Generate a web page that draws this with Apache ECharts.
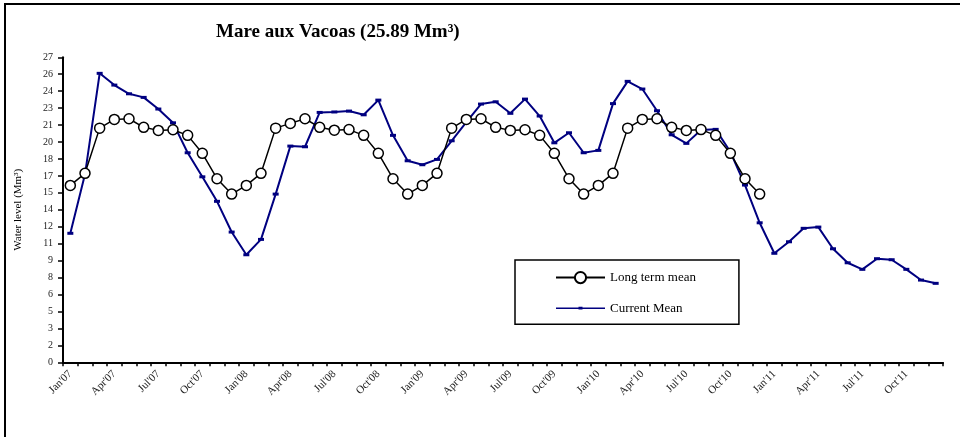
<!DOCTYPE html>
<html>
<head>
<meta charset="utf-8">
<script src="https://cdn.jsdelivr.net/npm/echarts@6/dist/echarts.min.js"></script>
<style>html,body{margin:0;padding:0;background:#fff}#c{width:960px;height:437px}</style>
</head>
<body>
<div id="c"></div>
<script>
const months = ["Jan","Feb","Mar","Apr","May","Jun","Jul","Aug","Sep","Oct","Nov","Dec"];
const years = ["07","08","09","10","11"];
const categories = [];
years.forEach(y => months.forEach(m => categories.push(m + "'" + y)));

const longTermMean = [
  15.66,16.73,20.73,21.50,21.56,20.80,20.53,20.59,20.09,18.50,16.25,14.89,
  15.66,16.73,20.73,21.15,21.56,20.80,20.55,20.60,20.09,18.50,16.25,14.89,
  15.66,16.73,20.73,21.50,21.56,20.80,20.53,20.59,20.09,18.50,16.25,14.89,
  15.66,16.73,20.73,21.50,21.56,20.80,20.53,20.60,20.09,18.50,16.25,14.89
];
const currentMean = [
  11.42,16.64,25.58,24.54,23.77,23.45,22.42,21.20,18.55,16.42,14.25,11.53,
  9.52,10.88,14.89,19.14,19.08,22.12,22.16,22.24,21.91,23.21,20.09,17.84,
  17.49,17.96,19.61,21.27,22.86,23.06,22.04,23.30,21.80,19.43,20.32,18.55,
  18.76,22.90,24.87,24.19,22.27,20.14,19.38,20.56,20.62,18.64,15.69,12.35,
  9.65,10.67,11.86,11.97,10.05,8.81,8.23,9.17,9.08,8.23,7.28,6.99
];

const serif = "'Liberation Serif','Times New Roman',serif";
const chart = echarts.init(document.getElementById('c'), null, {renderer:'canvas'});
chart.setOption({
  animation: false,
  backgroundColor: '#fff',
  graphic: [{
    type: 'rect', x: 5, y: 4, silent: true, z: 100,
    shape: {x: 0, y: 0, width: 1000, height: 500},
    style: {fill: 'none', stroke: '#000', lineWidth: 2}
  }],
  title: {
    text: 'Mare aux Vacoas (25.89 Mm³)',
    left: 211, top: 18,
    textStyle: {fontFamily: serif, fontSize: 19, fontWeight: 'bold', color: '#000'}
  },
  grid: {left: 63, right: 17, top: 57.3, bottom: 74.7},
  legend: {
    orient: 'vertical', left: 515, top: 260,
    padding: [11, 43, 9, 40], itemGap: 17, itemWidth: 49, itemHeight: 14,
    borderColor: '#000', borderWidth: 1.5, backgroundColor: '#fff',
    textStyle: {fontFamily: serif, fontSize: 13, color: '#000'},
    data: [
      {name: 'Long term mean'},
      {name: 'Current Mean',
       icon: 'path://M0,0L0.01,0L0.01,0.01Z M0,14L0.01,14L0.01,13.99Z M0,6.3L49,6.3L49,7.7L0,7.7Z M22.5,5.6L26.5,5.6L26.5,8.4L22.5,8.4Z'}
    ]
  },
  xAxis: {
    type: 'category', data: categories, boundaryGap: true,
    axisLine: {lineStyle: {color: '#000', width: 2}},
    axisTick: {show: true, interval: 0, length: 4, lineStyle: {color: '#000', width: 1.5}},
    axisLabel: {
      interval: 2, rotate: 45, margin: 10, color: '#222',
      fontFamily: serif, fontSize: 11
    },
    splitLine: {show: false}
  },
  yAxis: {
    type: 'value', min: 0, max: 27, interval: 1.5,
    name: 'Water level (Mm³)', nameLocation: 'middle', nameGap: 39, nameRotate: 90,
    nameTextStyle: {fontFamily: serif, fontSize: 11, color: '#000'},
    axisLine: {show: true, lineStyle: {color: '#000', width: 2}},
    axisTick: {show: true, length: 5, lineStyle: {color: '#000', width: 1.5}},
    axisLabel: {
      formatter: v => String(Math.round(v)), color: '#222',
      fontFamily: serif, fontSize: 10, margin: 10
    },
    splitLine: {show: false}
  },
  series: [
    {
      name: 'Long term mean', type: 'line', data: longTermMean,
      symbol: 'circle', symbolSize: 10, showAllSymbol: true, z: 3,
      lineStyle: {color: '#000', width: 1.5},
      itemStyle: {color: '#fff', borderColor: '#000', borderWidth: 1.5}
    },
    {
      name: 'Current Mean', type: 'line', data: currentMean,
      symbol: 'rect', symbolSize: [6, 3], showAllSymbol: true, z: 2,
      lineStyle: {color: '#000080', width: 2},
      itemStyle: {color: '#000080'}
    }
  ]
});
</script>
</body>
</html>
